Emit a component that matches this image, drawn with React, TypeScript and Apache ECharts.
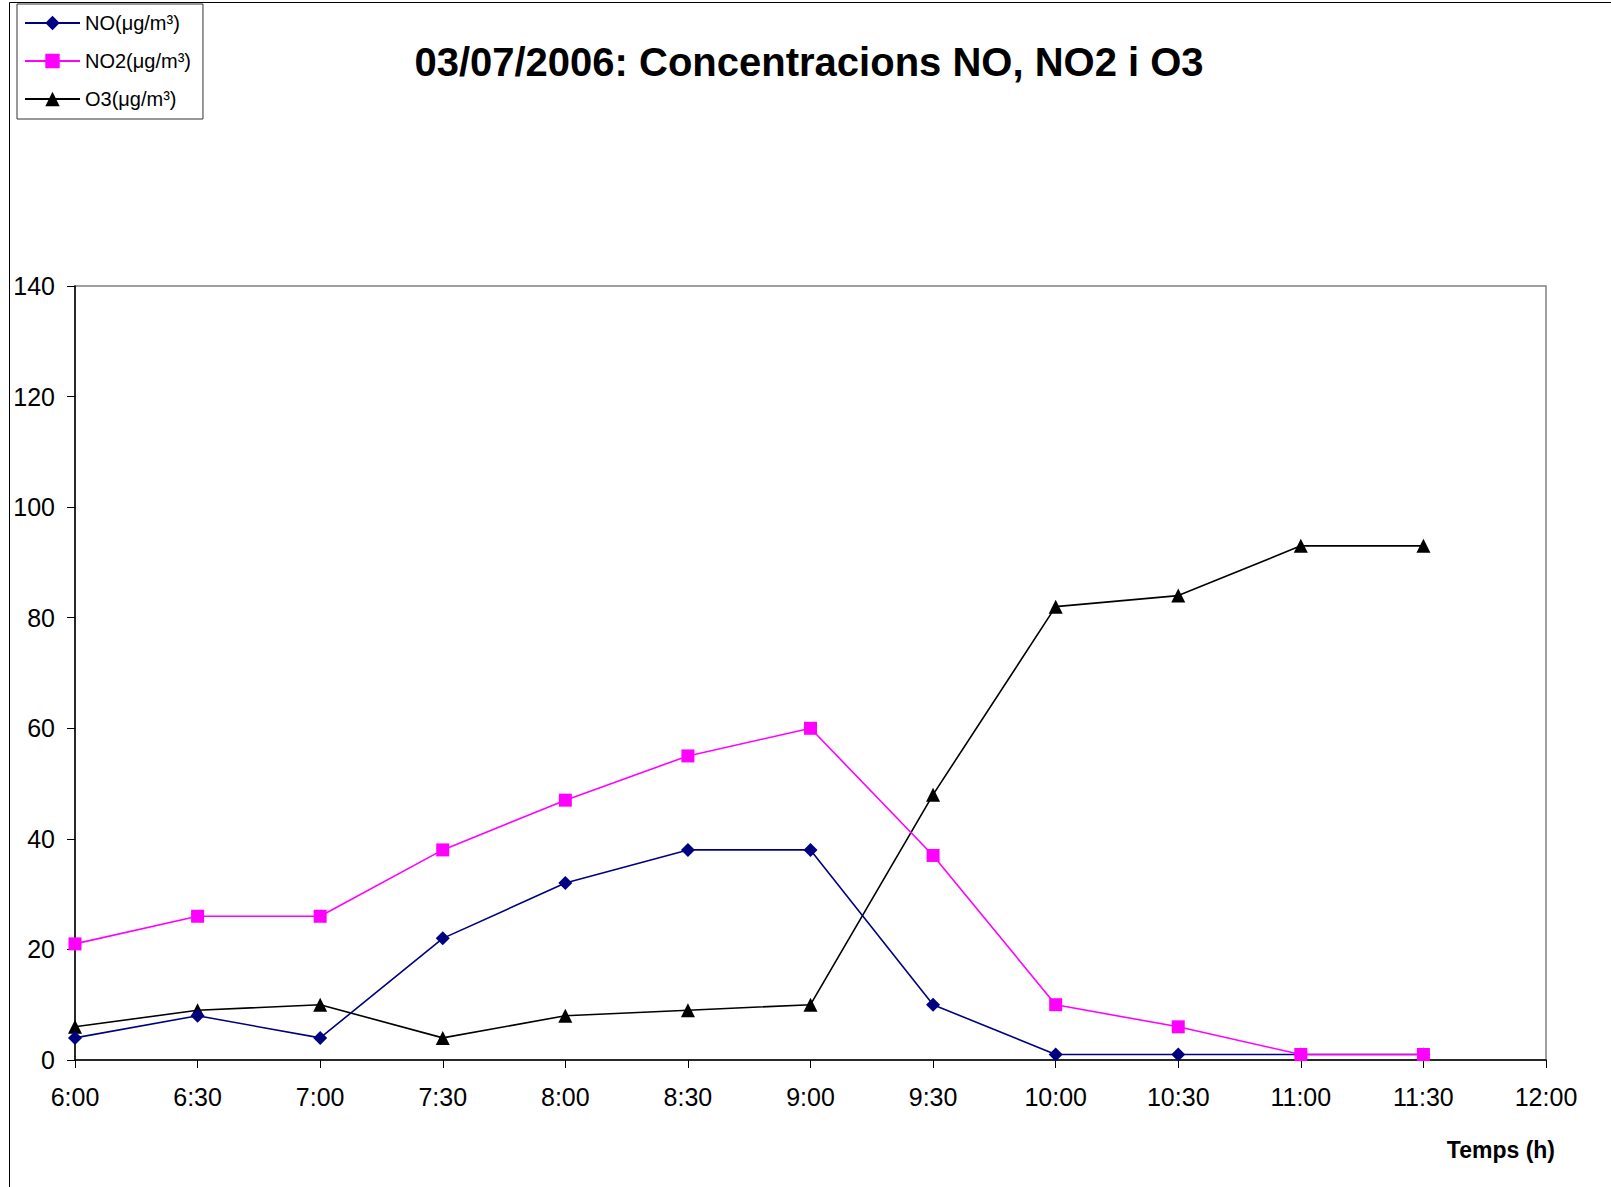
import React, { useEffect, useRef } from "react";
import * as echarts from "echarts";

const categories = ["6:00", "6:30", "7:00", "7:30", "8:00", "8:30", "9:00", "9:30", "10:00", "10:30", "11:00", "11:30", "12:00"];
const noValues = [4, 8, 4, 22, 32, 38, 38, 10, 1, 1, 1, 1];
const no2Values = [21, 26, 26, 38, 47, 55, 60, 37, 10, 6, 1, 1];
const o3Values = [6, 9, 10, 4, 8, 9, 10, 48, 82, 84, 93, 93];
const seriesNames = ["NO(μg/m³)", "NO2(μg/m³)", "O3(μg/m³)"];
const titleText = "03/07/2006: Concentracions NO, NO2 i O3";
const xAxisTitle = "Temps (h)";

const FONT = "Arial, 'Liberation Sans', Helvetica, sans-serif";

export default function App() {
  const ref = useRef<HTMLDivElement>(null);
  useEffect(() => {
    document.body.style.margin = "0";
    const chart = echarts.init(ref.current!, null, { renderer: "svg" });
    chart.setOption({
      animation: false,
      backgroundColor: "#fff",
      textStyle: { fontFamily: FONT },
      title: {
        text: titleText,
        left: 804,
        top: 37,
        textAlign: "center",
        textStyle: { fontFamily: FONT, fontSize: 40, fontWeight: "bold", color: "#000" },
      },
      legend: {
        orient: "vertical",
        left: 17,
        top: 4,
        padding: [9, 12, 10, 7],
        borderColor: "#333",
        borderWidth: 1,
        itemWidth: 55,
        itemHeight: 18,
        itemGap: 18,
        textStyle: { fontFamily: FONT, fontSize: 20, color: "#000" },
        data: seriesNames,
      },
      graphic: [
        {
          type: "rect",
          shape: { x: 9.5, y: 2.5, width: 1800, height: 1400 },
          style: { fill: "none", stroke: "#000", lineWidth: 1 },
          z: 0,
          silent: true,
        },
        {
          type: "text",
          right: 56,
          top: 1138,
          style: {
            text: xAxisTitle,
            font: `bold 23px ${FONT}`,
            fill: "#000",
          },
        },
      ],
      grid: {
        left: 75,
        top: 286,
        right: 65,
        bottom: 127,
        show: true,
        borderColor: "#808080",
        borderWidth: 1.5,
        backgroundColor: "#fff",
      },
      xAxis: {
        type: "category",
        data: categories,
        boundaryGap: false,
        axisLine: { lineStyle: { color: "#000", width: 1.5 } },
        axisTick: { show: true, length: 8, inside: false, lineStyle: { color: "#000" } },
        axisLabel: { fontFamily: FONT, fontSize: 25, color: "#000", margin: 24, interval: 0 },
        splitLine: { show: false },
      },
      yAxis: {
        type: "value",
        min: 0,
        max: 140,
        interval: 20,
        axisLine: { show: true, lineStyle: { color: "#000", width: 1.5 } },
        axisTick: { show: true, length: 8, lineStyle: { color: "#000" } },
        axisLabel: { fontFamily: FONT, fontSize: 25, color: "#000", margin: 20 },
        splitLine: { show: false },
      },
      series: [
        {
          name: seriesNames[0],
          type: "line",
          data: noValues,
          symbol: "diamond",
          symbolSize: 14,
          color: "#000080",
          lineStyle: { color: "#000080", width: 1.6 },
          itemStyle: { color: "#000080" },
          z: 3,
        },
        {
          name: seriesNames[1],
          type: "line",
          data: no2Values,
          symbol: "rect",
          symbolSize: 13,
          color: "#FF00FF",
          lineStyle: { color: "#FF00FF", width: 1.6 },
          itemStyle: { color: "#FF00FF" },
          z: 4,
        },
        {
          name: seriesNames[2],
          type: "line",
          data: o3Values,
          symbol: "triangle",
          symbolSize: 14,
          color: "#000",
          lineStyle: { color: "#000", width: 1.6 },
          itemStyle: { color: "#000" },
          z: 2,
        },
      ],
    });
    return () => chart.dispose();
  }, []);
  return <div ref={ref} style={{ width: 1611, height: 1187 }} />;
}
